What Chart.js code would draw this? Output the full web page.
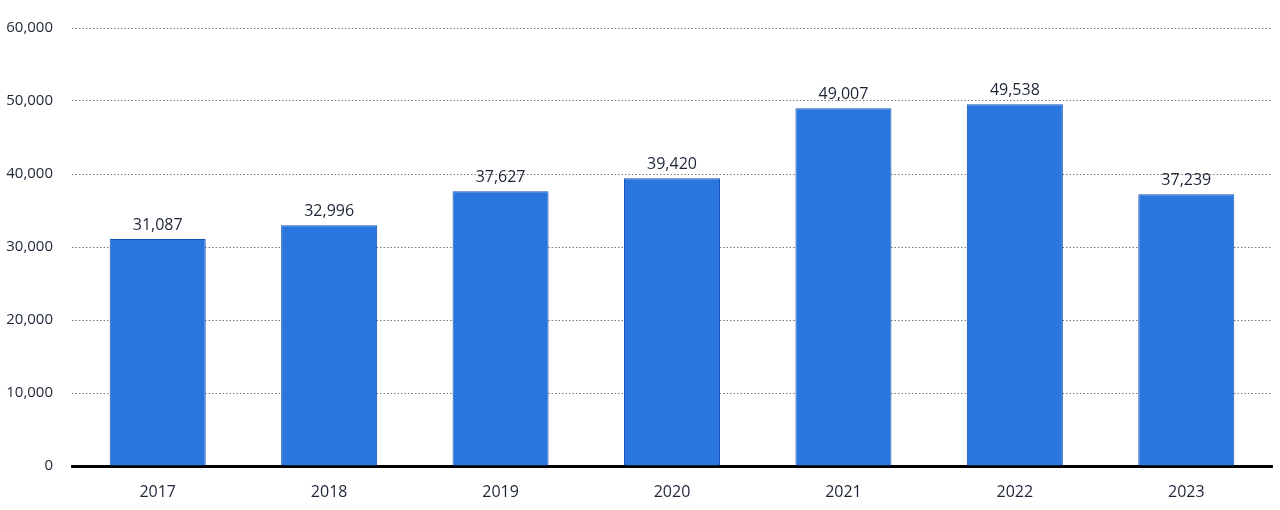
<!DOCTYPE html>
<html>
<head>
<meta charset="utf-8">
<script src="https://cdn.jsdelivr.net/npm/chart.js@4"></script>
<style>
  html, body { margin: 0; padding: 0; background: #fff; }
  #wrap { width: 1280px; height: 510px; }
</style>
</head>
<body>
<div id="wrap"><canvas id="chart"></canvas></div>
<script>
var years = ['2017', '2018', '2019', '2020', '2021', '2022', '2023'];
var values = [31087, 32996, 37627, 39420, 49007, 49538, 37239];
var yTicks = [0, 10000, 20000, 30000, 40000, 50000, 60000];

var textColor = '#1d2636';
var fontFamily = '"Open Sans", "Noto Sans", sans-serif';

function fmt(v) {
    return v.toLocaleString('en-US');
}

// etiquetas encima de cada barra
var barLabels = {
    id: 'barLabels',
    afterDatasetsDraw: function (chart) {
        var ctx = chart.ctx;
        var meta = chart.getDatasetMeta(0);
        ctx.save();
        ctx.font = '16px ' + fontFamily;
        ctx.fillStyle = textColor;
        ctx.textAlign = 'center';
        ctx.textBaseline = 'bottom';
        meta.data.forEach(function (bar, i) {
            ctx.fillText(fmt(values[i]), bar.x, bar.y - 6);
        });
        ctx.restore();
    }
};

document.addEventListener('DOMContentLoaded', function () {
    var ctx = document.getElementById('chart').getContext('2d');

    new Chart(ctx, {
        type: 'bar',
        data: {
            labels: years,
            datasets: [{
                data: values,
                backgroundColor: '#2976de',
                borderColor: '#1553b5',
                borderWidth: 1,
                barPercentage: 0.56,
                categoryPercentage: 1.0
            }]
        },
        options: {
            responsive: true,
            maintainAspectRatio: false,
            animation: false,
            layout: { padding: { top: 23, right: 8, left: 0, bottom: 0 } },
            plugins: {
                legend: { display: false },
                tooltip: { enabled: false }
            },
            scales: {
                x: {
                    afterFit: function (axis) {
                        axis.height = 44;
                    },
                    grid: { display: false },
                    border: { display: true, color: '#000', width: 3 },
                    ticks: {
                        color: textColor,
                        font: { family: fontFamily, size: 16 },
                        padding: 9
                    }
                },
                y: {
                    min: 0,
                    max: 60000,
                    afterBuildTicks: function (axis) {
                        axis.ticks = yTicks.map(function (v) { return { value: v }; });
                    },
                    afterFit: function (axis) {
                        axis.width = 72;
                    },
                    grid: {
                        color: '#777',
                        lineWidth: 1,
                        drawTicks: false
                    },
                    border: { display: false, dash: [1.5, 2] },
                    ticks: {
                        color: textColor,
                        font: { family: fontFamily, size: 15 },
                        padding: 19,
                        callback: function (v) { return fmt(v); }
                    }
                }
            }
        },
        plugins: [barLabels]
    });
});
</script>
</body>
</html>
